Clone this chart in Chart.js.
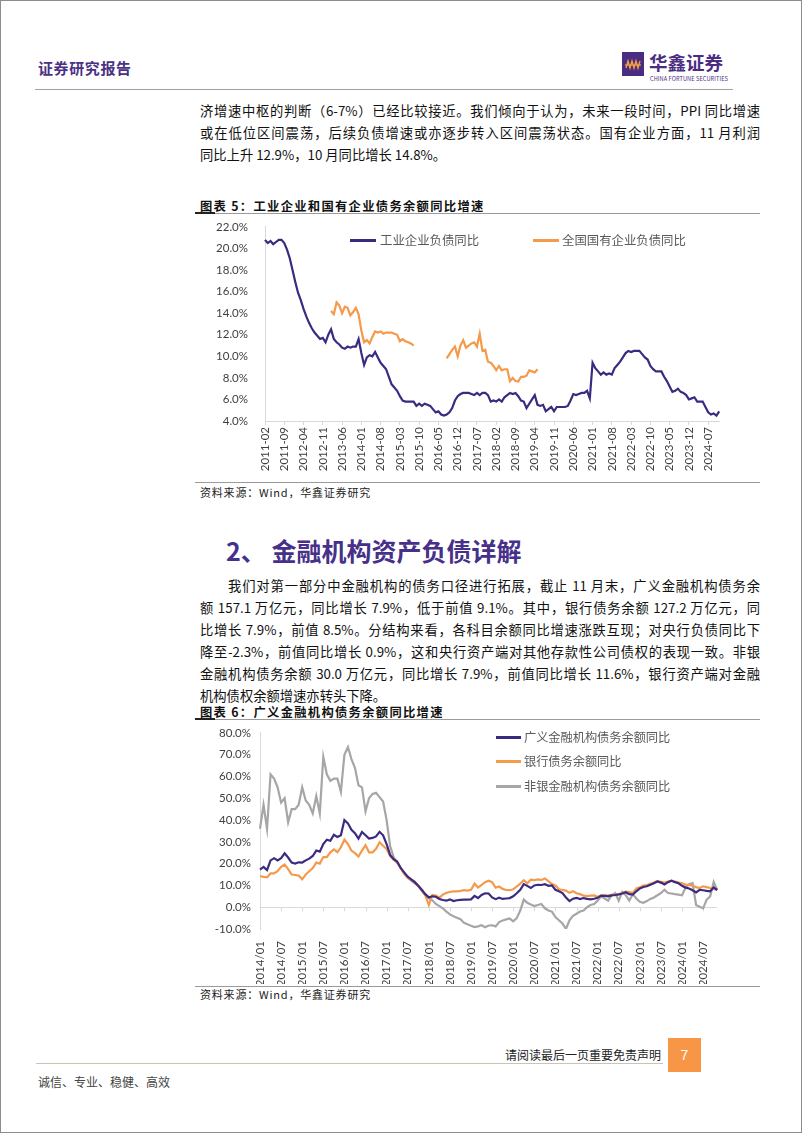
<!DOCTYPE html>
<html><head><meta charset="utf-8">
<script src="https://cdn.jsdelivr.net/npm/chart.js@4.4.1/dist/chart.umd.min.js"></script>
<style>
html,body{margin:0;padding:0;background:#fff;}
#page{position:relative;width:802px;height:1133px;overflow:hidden;font-family:"Noto Sans CJK SC","Noto Sans",sans-serif;background:#fff;}
.frame{position:absolute;left:0;top:0;width:802px;height:1133px;box-sizing:border-box;border:1px solid #8c8c8c;pointer-events:none;}
.a{position:absolute;white-space:nowrap;}
.ln{position:absolute;left:200px;width:560px;height:22px;line-height:22px;font-size:13.3px;color:#111;text-align:justify;text-align-last:justify;white-space:nowrap;}
.last{text-align-last:left;}
.ttl{position:absolute;left:200px;font-size:12.3px;font-weight:700;letter-spacing:1.3px;line-height:16px;color:#111;}
.hr{position:absolute;left:195px;width:565px;height:1px;background:#9a9a9a;}
.src{position:absolute;left:200px;font-size:11px;letter-spacing:0.8px;line-height:14px;color:#222;}
.lg{position:absolute;font-size:12.4px;line-height:18px;color:#595959;white-space:nowrap;}
.bar{position:absolute;height:2.5px;}
canvas{position:absolute;}
</style>
</head><body>
<div id="page">
  <!-- header -->
  <div class="a" style="left:38px;top:58px;font-size:15px;font-weight:700;line-height:20px;color:#4a3184;letter-spacing:0.6px;">证券研究报告</div>
  <svg class="a" style="left:622px;top:52px;" width="22" height="24" viewBox="0 0 22 24">
    <rect x="0" y="0" width="22" height="24" fill="#4b2c82"/>
    <polyline points="4,16 6,9 8,16 10,9 12,16 14,9 16,16 18,9" fill="none" stroke="#f0a040" stroke-width="1.4"/>
    <line x1="3" y1="13" x2="19" y2="13" stroke="#f0a040" stroke-width="1.2"/>
  </svg>
  <div class="a" style="left:649px;top:50px;font-size:18.5px;font-weight:700;line-height:24px;color:#4b2c82;">华鑫证券</div>
  <div class="a" style="left:650px;top:76px;font-size:5.6px;line-height:7px;color:#4b2c82;letter-spacing:0.1px;">CHINA FORTUNE SECURITIES</div>
  <div class="a" style="left:35px;top:89px;width:698px;height:1px;background:#a0a0a0;"></div>

  <!-- paragraph 1 -->
  <div class="ln" style="top:100px;">济增速中枢的判断（6-7%）已经比较接近。我们倾向于认为，未来一段时间，PPI 同比增速</div>
  <div class="ln" style="top:122px;">或在低位区间震荡，后续负债增速或亦逐步转入区间震荡状态。国有企业方面，11 月利润</div>
  <div class="ln last" style="top:144px;">同比上升 12.9%，10 月同比增长 14.8%。</div>

  <!-- chart 5 -->
  <div class="ttl" style="top:198px;">图表 5：工业企业和国有企业债务余额同比增速</div>
  <div class="hr" style="top:213px;"></div>
  <div class="a" style="left:195px;top:212px;width:20px;height:2px;background:#222;"></div>
  <canvas id="c1" width="540" height="264" style="left:195px;top:211px;width:540px;height:264px;"></canvas>
  <div class="bar" style="left:350px;top:239px;width:26px;background:#3b2b80;"></div>
  <div class="lg" style="left:380px;top:231px;">工业企业负债同比</div>
  <div class="bar" style="left:533px;top:239px;width:26px;background:#f5994b;"></div>
  <div class="lg" style="left:562px;top:231px;">全国国有企业负债同比</div>
  <div class="hr" style="top:482px;"></div>
  <div class="src" style="top:485px;">资料来源：Wind，华鑫证券研究</div>

  <!-- section heading -->
  <div class="a" style="left:226px;top:535px;font-size:25px;font-weight:700;line-height:30px;color:#46308a;">2、 金融机构资产负债详解</div>

  <!-- paragraph 2 -->
  <div class="ln" style="top:575px;left:228px;width:532px;">我们对第一部分中金融机构的债务口径进行拓展，截止 11 月末，广义金融机构债务余</div>
  <div class="ln" style="top:597px;">额 157.1 万亿元，同比增长 7.9%，低于前值 9.1%。其中，银行债务余额 127.2 万亿元，同</div>
  <div class="ln" style="top:619px;">比增长 7.9%，前值 8.5%。分结构来看，各科目余额同比增速涨跌互现；对央行负债同比下</div>
  <div class="ln" style="top:641px;">降至-2.3%，前值同比增长 0.9%，这和央行资产端对其他存款性公司债权的表现一致。非银</div>
  <div class="ln" style="top:663px;">金融机构债务余额 30.0 万亿元，同比增长 7.9%，前值同比增长 11.6%，银行资产端对金融</div>
  <div class="ln last" style="top:685px;">机构债权余额增速亦转头下降。</div>

  <!-- chart 6 -->
  <div class="ttl" style="top:704px;">图表 6：广义金融机构债务余额同比增速</div>
  <div class="hr" style="top:719px;"></div>
  <div class="a" style="left:195px;top:718px;width:20px;height:2px;background:#222;"></div>
  <canvas id="c2" width="540" height="267" style="left:195px;top:717px;width:540px;height:267px;"></canvas>
  <div class="bar" style="left:496px;top:736px;width:25px;background:#3b2b80;"></div>
  <div class="lg" style="left:524px;top:728px;font-size:12.2px;">广义金融机构债务余额同比</div>
  <div class="bar" style="left:496px;top:760px;width:25px;background:#f5994b;"></div>
  <div class="lg" style="left:524px;top:752px;font-size:12.2px;">银行债务余额同比</div>
  <div class="bar" style="left:496px;top:785px;width:25px;background:#a6a6a6;"></div>
  <div class="lg" style="left:524px;top:777px;font-size:12.2px;">非银金融机构债务余额同比</div>
  <div class="hr" style="top:986px;"></div>
  <div class="src" style="top:987px;">资料来源：Wind，华鑫证券研究</div>

  <!-- footer -->
  <div class="a" style="left:505px;top:1046px;font-size:12px;line-height:18px;color:#222;">请阅读最后一页重要免责声明</div>
  <div class="a" style="left:668px;top:1038px;width:33px;height:34px;background:#f79646;color:#fff;font-size:14px;line-height:34px;text-align:center;font-family:'Liberation Sans',sans-serif;">7</div>
  <div class="a" style="left:36px;top:1063px;width:627px;height:1px;background:#c9c5b5;"></div>
  <div class="a" style="left:38px;top:1073px;font-size:12px;line-height:18px;color:#444;">诚信、专业、稳健、高效</div>
  <div class="frame"></div>
</div>

<script>
// ---------- Chart 5 data ----------
const chart5Start = [2011, 2];
const chart5End = [2024, 11];
const industrialDebtYoY = [
  20.8, 20.5, 20.7, 20.4, 20.6, 20.8, 20.8, 20.5, 19.9, 19.1,
  18.0, 16.9, 15.9, 15.2, 14.4, 13.7, 13.1, 12.6, 12.2, 11.9,
  11.6, 11.7, 11.3, 12.0, 12.5, 11.6, 11.3, 11.1, 10.8, 10.7,
  10.9, 10.8, 10.9, 10.9, 11.6, 10.3, 9.2, 9.9, 10.1, 10.0,
  10.4, 9.9, 9.4, 9.1, 8.8, 8.1, 7.4, 7.1, 6.8, 6.3,
  5.9, 5.8, 5.8, 5.8, 5.8, 5.4, 5.6, 5.4, 5.6, 5.5,
  5.4, 5.1, 4.8, 4.9, 4.6, 4.5, 4.6, 4.8, 5.2, 5.9,
  6.3, 6.5, 6.6, 6.6, 6.6, 6.5, 6.4, 6.6, 6.4, 6.6,
  6.6, 6.4, 5.8, 5.9, 5.8, 6.0, 5.8, 6.2, 6.4, 6.6,
  6.5, 6.6, 6.3, 5.9, 5.8, 5.2, 5.6, 6.0, 6.4, 5.5,
  5.4, 5.5, 4.9, 5.1, 5.3, 4.9, 5.3, 5.3, 5.3, 5.3,
  5.4, 5.9, 6.5, 6.4, 6.5, 6.6, 6.6, 6.8, 6.1, 9.4,
  8.9, 8.6, 8.3, 8.5, 8.3, 8.4, 8.3, 8.9, 9.2, 9.5,
  9.9, 10.3, 10.5, 10.4, 10.5, 10.5, 10.5, 10.2, 9.9, 9.7,
  9.1, 8.8, 8.6, 8.6, 8.6, 8.1, 7.7, 7.2, 6.7, 6.8,
  7.0, 6.7, 6.6, 6.4, 6.0, 6.1, 6.2, 5.8, 5.8, 5.8,
  5.3, 4.8, 4.6, 4.7, 4.5, 4.9
];
const soeSeg1Start = '2013-02';
const soeSeg1 = [14.2, 13.9, 15.0, 14.7, 14.0, 14.6, 14.5, 13.8, 14.1, 14.5,
  13.9, 12.4, 11.3, 11.5, 11.2, 11.8, 12.3, 12.2, 12.3, 12.1,
  12.2, 12.2, 12.2, 12.1, 12.0, 11.4, 11.6, 11.4, 11.3, 11.2, 11.0];
const soeSeg2Start = '2016-08';
const soeSeg2 = [9.8, 10.2, 10.6, 10.9, 10.0, 11.0, 11.5, 10.8, 11.0, 11.2,
  11.3, 10.9, 12.1, 10.5, 10.6, 9.5, 9.4, 9.1, 8.7, 9.1,
  8.7, 8.8, 8.8, 7.7, 8.0, 7.7, 7.65, 8.1, 8.1, 8.2,
  8.7, 8.6, 8.5, 8.8];
const chart5Ticks = [4, 22, 2];

// ---------- Chart 6 data ----------
const chart6Start = [2014, 1];
const chart6End = [2024, 11];
const broadFinDebtYoY = [
  17.3, 18.5, 17.0, 21.5, 22.5, 21.5, 22.5, 24.7, 22.8, 20.5,
  20.0, 20.6, 20.5, 21.5, 22.3, 23.5, 26.0, 25.5, 29.0, 31.0,
  30.5, 33.2, 32.2, 33.0, 40.0, 38.5, 35.5, 34.0, 31.5, 34.5,
  33.0, 31.5, 31.8, 32.5, 34.6, 33.0, 29.0, 24.0, 22.0, 21.0,
  18.0, 16.0, 14.0, 12.8, 11.5, 9.8, 8.0, 6.0, 4.5, 5.0,
  4.8, 3.8, 3.3, 3.0, 3.6, 2.8, 3.2, 3.4, 3.5, 3.5,
  3.6, 5.2, 4.2, 5.6, 6.4, 6.3, 4.5, 3.7, 4.4, 3.8,
  4.0, 4.2, 5.0, 6.4, 8.0, 10.6, 9.8, 8.8, 10.0, 10.3,
  10.2, 10.6, 9.8, 10.0, 8.0, 7.3, 6.5, 4.5, 2.8, 3.9,
  4.3, 3.7, 4.2, 3.8, 3.6, 3.9, 4.3, 5.3, 5.2, 5.0,
  5.4, 5.6, 5.9, 6.3, 6.9, 6.0, 5.8, 7.3, 8.6, 9.3,
  9.6, 10.3, 11.0, 11.8, 11.3, 10.4, 11.5, 12.2, 11.5, 11.0,
  9.8, 9.0, 8.6, 7.8, 6.8, 8.0, 7.8, 7.5, 7.3, 9.1,
  7.9
];
const bankDebtYoY = [
  14.3, 13.9, 13.7, 15.5, 15.5, 16.5, 18.5, 19.6, 17.5, 15.0,
  14.8, 14.5, 12.8, 15.0, 16.5, 18.0, 20.5, 20.0, 23.0, 23.0,
  25.2, 26.5, 25.3, 27.5, 31.0, 29.0, 26.0, 24.8, 23.3, 26.0,
  28.5, 25.2, 25.2, 26.8, 29.8, 28.2, 26.7, 23.5, 21.8, 20.5,
  18.0, 15.2, 13.5, 12.6, 11.8, 9.7, 7.8, 5.5, 1.0, 5.6,
  5.4, 4.4, 5.8, 6.6, 7.0, 7.3, 7.3, 7.5, 7.8, 7.6,
  8.0, 10.8, 9.0, 10.2, 11.5, 12.2, 11.5, 9.0, 9.5, 8.4,
  7.9, 7.8, 8.2, 9.5, 10.8, 12.4, 11.0, 12.6, 12.4, 12.8,
  12.5, 13.2, 12.0, 10.6, 10.0, 8.2, 7.9, 7.6, 6.6, 7.3,
  6.4, 6.0, 5.3, 5.1, 5.3, 5.4, 4.8, 5.3, 5.4, 5.4,
  5.7, 5.8, 5.8, 6.5, 7.1, 6.9, 6.6, 8.6, 9.2, 9.9,
  10.2, 10.8, 11.3, 12.1, 11.6, 11.3, 11.8, 12.2, 11.8, 11.3,
  11.0, 10.4, 10.2, 9.9, 9.2, 8.8, 9.6, 9.2, 8.8, 8.5,
  7.9
];
const nonBankDebtYoY = [
  36, 47, 36, 61, 59, 55, 48, 50, 39, 45,
  45, 47, 55, 49, 47, 43, 51, 43, 69, 61,
  58, 59, 59, 53, 70, 73.5, 68, 64, 56, 55,
  44, 50, 52, 52.5, 50.5, 48.5, 40, 28, 23, 20.5,
  18, 15.5, 13.5, 12.2, 11, 9.7, 7.5, 5.5, 4.2, 3.2,
  1.5, 0.5, -0.5, -2, -3.3, -4.1, -4.8, -5.5, -7.2, -7.8,
  -8.5, -9.1, -8.8, -8.3, -9.2, -8.4, -8.3, -8.8, -6.8, -6.1,
  -5.6, -5.2, -6.5, -5.0, -1.5, 3.5, 2.0, 1.2, 0.5, 1.0,
  1.5, -0.5, -1.5, -2.0, -4.5, -6.0, -7.5, -10.0, -6.0, -4.0,
  -3.0, -2.0, -1.5, 0.0, 1.0, 1.5, 3.0, 5.0, 4.0, 3.0,
  5.5, 6.5, 3.0, 7.0, 5.5, 3.0, 6.0, 4.0, 2.5, 2.0,
  2.8, 3.8, 4.5, 5.5, 6.5, 8.0, 6.5, 6.3, 6.0, 5.8,
  5.5, 9.0, 10.5, 11.0, 1.0, 0.2, -0.5, 3.5, 5.0, 11.6,
  7.9
];
const chart6Ticks = [-10, 80, 10];

// ---------- helpers ----------
function monthLabels(start, end, sep) {
  const out = [];
  let y = start[0], m = start[1];
  while (y < end[0] || (y === end[0] && m <= end[1])) {
    out.push(y + sep + String(m).padStart(2, '0'));
    m++; if (m > 12) { m = 1; y++; }
  }
  return out;
}
const cats5 = monthLabels(chart5Start, chart5End, '-');
const cats6 = monthLabels(chart6Start, chart6End, '/');
function placeSegments(cats, segs) {
  const arr = cats.map(() => null);
  segs.forEach(([start, vals]) => {
    const k = cats.indexOf(start);
    vals.forEach((v, j) => { arr[k + j] = v; });
  });
  return arr;
}
const soeDebtYoY = placeSegments(cats5, [[soeSeg1Start, soeSeg1], [soeSeg2Start, soeSeg2]]);

const PURPLE = '#3b2b80', ORANGE = '#f5994b', GRAY = '#a6a6a6', AXIS = '#d9d9d9';
const tickFont = { family: 'Lato, "Open Sans", sans-serif', size: 11.5 };

Chart.defaults.animation = false;
Chart.defaults.responsive = false;

function lineDs(data, color) {
  return { data, borderColor: color, borderWidth: 2.2, pointRadius: 0, tension: 0, fill: false, spanGaps: false };
}

// ---------- Chart 5 ----------
new Chart(document.getElementById('c1'), {
  type: 'line',
  data: {
    labels: cats5,
    datasets: [lineDs(industrialDebtYoY, PURPLE), lineDs(soeDebtYoY, ORANGE)]
  },
  options: {
    layout: { padding: { top: 4, right: 15, left: 0, bottom: 0 } },
    plugins: { legend: { display: false }, tooltip: { enabled: false } },
    scales: {
      x: {
        type: 'category',
        offset: false,
        afterFit: s => { s.height = 54; },
        border: { display: true, color: AXIS, width: 1 },
        grid: { display: true, drawOnChartArea: false, drawTicks: true, tickLength: 4,
          color: c => (c.index % 7 === 0 ? AXIS : 'rgba(0,0,0,0)') },
        ticks: { autoSkip: false, minRotation: 90, maxRotation: 90, padding: 2, color: '#404040', font: tickFont,
          callback: function (v, i) { return i % 7 === 0 ? this.getLabelForValue(v) : ''; } }
      },
      y: {
        min: chart5Ticks[0], max: chart5Ticks[1],
        afterFit: s => { s.width = 70; },
        border: { display: true, color: AXIS, width: 1 },
        grid: { display: false },
        ticks: { stepSize: chart5Ticks[2], padding: 9, color: '#404040', font: tickFont,
          callback: v => v.toFixed(1) + '%' }
      }
    }
  }
});

// ---------- Chart 6 ----------
const zeroTicks = {
  id: 'zeroTicks',
  beforeDatasetsDraw(chart) {
    const x = chart.scales.x, y = chart.scales.y, ctx = chart.ctx;
    const y0 = y.getPixelForValue(0);
    ctx.save();
    ctx.strokeStyle = AXIS; ctx.lineWidth = 1;
    ctx.beginPath();
    for (let i = 0; i < chart.data.labels.length; i += 6) {
      const px = Math.round(x.getPixelForValue(i)) + 0.5;
      ctx.moveTo(px, y0); ctx.lineTo(px, y0 + 4);
    }
    ctx.stroke();
    ctx.restore();
  }
};
new Chart(document.getElementById('c2'), {
  type: 'line',
  data: {
    labels: cats6,
    datasets: [lineDs(broadFinDebtYoY, PURPLE), lineDs(bankDebtYoY, ORANGE), lineDs(nonBankDebtYoY, GRAY)]
  },
  plugins: [zeroTicks],
  options: {
    layout: { padding: { top: 4, right: 9, left: 0, bottom: 0 } },
    plugins: { legend: { display: false }, tooltip: { enabled: false } },
    scales: {
      x: {
        type: 'category',
        offset: false,
        afterFit: s => { s.height = 55; },
        border: { display: false },
        grid: { display: false },
        ticks: { autoSkip: false, minRotation: 90, maxRotation: 90, padding: 4, color: '#404040', font: tickFont,
          callback: function (v, i) { return i % 6 === 0 ? this.getLabelForValue(v) : ''; } }
      },
      y: {
        min: chart6Ticks[0], max: chart6Ticks[1],
        afterFit: s => { s.width = 65; },
        border: { display: true, color: AXIS, width: 1 },
        grid: { display: true, drawTicks: false, color: c => (c.tick && c.tick.value === 0 ? AXIS : 'rgba(0,0,0,0)') },
        ticks: { stepSize: chart6Ticks[2], padding: 9, color: '#404040', font: tickFont,
          callback: v => v.toFixed(1) + '%' }
      }
    }
  }
});
</script>
</body></html>
